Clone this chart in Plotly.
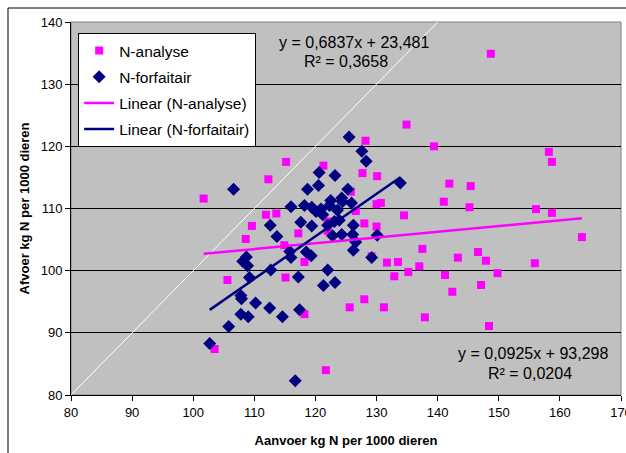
import plotly.graph_objects as go
import numpy as np

# N-analyse (pink squares)
ana_x = [101.7, 112.3, 115.2, 148.7, 134.9, 139.4, 128.2, 158.2, 158.7, 121.3,
         127.7, 130.1, 141.9, 145.4, 125.8, 130.0, 130.7, 141.0, 145.2, 156.1,
         158.7, 134.5, 163.6, 126.6, 128.0, 130.0, 137.5, 146.6, 143.3, 147.9,
         155.9, 131.7, 133.5, 137.0, 135.2, 132.9, 141.2, 149.8, 142.4, 147.1,
         128.0, 125.6, 131.2, 137.9, 148.4, 121.7, 118.2, 118.2, 122.0, 122.0,
         117.2, 111.9, 113.6, 109.6, 108.6, 114.9, 105.6, 115.1, 103.5, 129.2]
ana_y = [111.6, 114.7, 117.5, 134.9, 123.5, 120.0, 120.9, 119.1, 117.5, 116.9,
         115.7, 115.2, 114.0, 113.6, 112.7, 110.7, 110.9, 111.1, 110.2, 109.9,
         109.3, 108.9, 105.4, 109.6, 107.6, 107.1, 103.5, 103.0, 102.1, 101.6,
         101.2, 101.3, 101.4, 100.7, 99.8, 99.1, 99.3, 99.6, 96.6, 97.7,
         95.4, 94.1, 94.1, 92.5, 91.1, 84.0, 93.0, 101.4, 107.9, 106.4,
         106.0, 109.0, 109.2, 107.2, 105.1, 104.1, 98.5, 98.9, 87.4, 102.3]

# N-forfaitair (navy diamonds)
for_x = [106.6, 125.5, 127.6, 128.3, 120.6, 123.2, 133.9, 118.7, 120.5, 125.3,
         124.3, 124.4, 125.9, 122.5, 122.3, 123.6, 116.0, 118.2, 119.4, 120.1,
         120.9, 121.2, 112.6, 117.6, 119.4, 122.0, 123.1, 123.9, 126.2, 122.8,
         124.3, 126.1, 130.1, 126.6, 126.2, 129.2, 113.7, 115.8, 116.0, 118.5,
         119.3, 108.7, 108.1, 108.9, 112.7, 109.2, 117.2, 122.0, 121.3, 123.2,
         107.8, 107.9, 110.2, 112.5, 117.4, 107.8, 109.0, 114.6, 105.8, 102.7,
         116.7]
for_y = [113.1, 121.5, 119.2, 117.6, 115.8, 115.3, 114.1, 113.1, 113.7, 113.1,
         111.7, 111.1, 110.9, 111.3, 110.5, 109.7, 110.3, 110.5, 110.2, 109.5,
         109.9, 109.0, 107.3, 107.8, 107.2, 107.3, 107.9, 108.1, 107.3, 105.6,
         105.8, 105.8, 105.7, 104.6, 103.3, 102.1, 105.5, 103.1, 102.1, 103.0,
         102.4, 102.2, 101.5, 100.8, 100.1, 98.9, 99.0, 100.1, 97.6, 98.1,
         96.0, 95.5, 94.8, 94.0, 93.7, 93.0, 92.6, 92.6, 91.0, 88.3,
         82.3]

# Trend line coefficients (from the chart labels)
ana_slope, ana_icpt = 0.0925, 93.298
for_slope, for_icpt = 0.6837, 23.481
ana_label = ["y = 0,0925x + 93,298", "R² = 0,0204"]
for_label = ["y = 0,6837x + 23,481", "R² = 0,3658"]

diag = [80, 140]
x_ticks = [80, 90, 100, 110, 120, 130, 140, 150, 160, 170]
y_ticks = [80, 90, 100, 110, 120, 130, 140]

FONT = "Arial, Liberation Sans, sans-serif"

ax_ = np.array([min(ana_x), max(ana_x)])
fx_ = np.array([min(for_x), max(for_x)])

fig = go.Figure()
fig.add_trace(go.Scatter(x=diag, y=diag, mode="lines", line=dict(color="white", width=1),
                         showlegend=False, hoverinfo="skip"))
fig.add_trace(go.Scatter(x=ana_x, y=ana_y, mode="markers", name="N-analyse", legendgroup="a",
                         marker=dict(symbol="square", size=8, color="#FF00FF")))
fig.add_trace(go.Scatter(x=for_x, y=for_y, mode="markers", name="N-forfaitair", legendgroup="b",
                         marker=dict(symbol="diamond", size=10, color="#000080")))
fig.add_trace(go.Scatter(x=ax_, y=ana_slope * ax_ + ana_icpt, mode="lines", legendgroup="c",
                         name="Linear (N-analyse)", line=dict(color="#FF00FF", width=2.5)))
fig.add_trace(go.Scatter(x=fx_, y=for_slope * fx_ + for_icpt, mode="lines", legendgroup="d",
                         name="Linear (N-forfaitair)", line=dict(color="#000080", width=2.5)))

fig.update_layout(
    width=626, height=453,
    margin=dict(l=71, r=5, t=22, b=58, autoexpand=False),
    paper_bgcolor="white", plot_bgcolor="#C0C0C0",
    font=dict(family=FONT, size=13, color="black"),
    legend=dict(x=0.013, y=0.9705, xanchor="left", yanchor="top",
                bgcolor="white", bordercolor="black", borderwidth=1,
                font=dict(size=15.5, family=FONT), itemwidth=30, tracegroupgap=3),
    xaxis=dict(range=[80, 170], tickvals=x_ticks, showgrid=False, zeroline=False,
               showline=True, linecolor="black", linewidth=1, ticks="outside",
               ticklen=5, tickcolor="black", tickfont=dict(size=13),
               ticklabeloverflow="allow", automargin=False,
               title=dict(text="<b>Aanvoer kg N per 1000 dieren</b>", font=dict(size=13), standoff=17)),
    yaxis=dict(range=[80, 140], tickvals=y_ticks, showgrid=True, gridcolor="black", gridwidth=1,
               zeroline=False, showline=True, linecolor="black", linewidth=1, ticks="outside",
               ticklen=5, tickcolor="black", tickfont=dict(size=13), automargin=False,
               title=dict(text="<b>Afvoer kg N per 1000 dieren</b>", font=dict(size=13), standoff=8)),
    showlegend=True,
)

# plot area border (gray) and outer chart frame
fig.add_shape(type="rect", xref="paper", yref="paper", x0=0, y0=0, x1=1, y1=1,
              line=dict(color="#808080", width=1), layer="below")
fig.add_shape(type="rect", xref="paper", yref="paper",
              x0=(8 - 71) / 550, x1=(640 - 71) / 550,
              y0=(395 - 470) / 373, y1=(395 - 8) / 373,
              line=dict(color="black", width=1), fillcolor="rgba(0,0,0,0)")

def ann(px, py, text):
    fig.add_annotation(x=(px - 71) / 550, y=(395 - py) / 373, xref="paper", yref="paper",
                       xanchor="center", yanchor="middle",
                       text=text, showarrow=False, font=dict(size=16))

ann(354, 42, for_label[0])
ann(346, 62, for_label[1])
ann(533, 353, ana_label[0])
ann(530, 373, ana_label[1])

fig.write_html("out.html")
